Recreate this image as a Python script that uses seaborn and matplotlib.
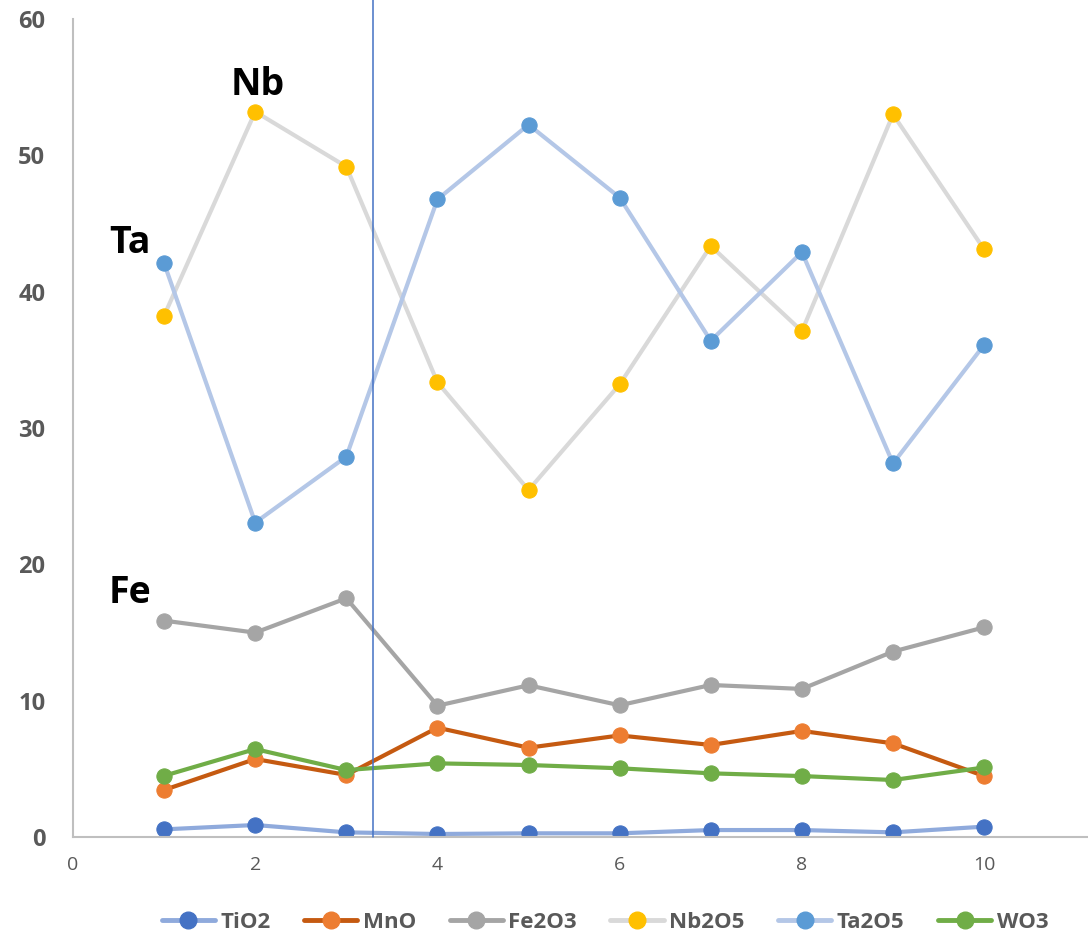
import matplotlib
matplotlib.use("Agg")
import matplotlib.pyplot as plt
import seaborn as sns
import pandas as pd
from matplotlib.lines import Line2D

samples = [1, 2, 3, 4, 5, 6, 7, 8, 9, 10]
tio2 = [0.56, 0.88, 0.34, 0.22, 0.27, 0.27, 0.51, 0.51, 0.34, 0.76]
mno = [3.45, 5.72, 4.55, 8.02, 6.55, 7.45, 6.75, 7.78, 6.87, 4.47]
fe2o3 = [15.87, 14.99, 17.51, 9.63, 11.13, 9.66, 11.15, 10.86, 13.6, 15.38]
nb2o5 = [38.24, 53.2, 49.17, 33.35, 25.45, 33.2, 43.35, 37.1, 53.0, 43.1]
ta2o5 = [42.08, 23.06, 27.9, 46.77, 52.25, 46.9, 36.4, 42.9, 27.4, 36.1]
wo3 = [4.49, 6.45, 4.91, 5.4, 5.28, 5.04, 4.67, 4.47, 4.18, 5.1]
series_names = ["TiO2", "MnO", "Fe2O3", "Nb2O5", "Ta2O5", "WO3"]
line_colors = ["#8FAADC", "#C55A11", "#A5A5A5", "#D9D9D9", "#B4C7E7", "#70AD47"]
marker_colors = ["#4472C4", "#ED7D31", "#A5A5A5", "#FFC000", "#5B9BD5", "#70AD47"]
labels = [("Nb", 2.03, 54.4), ("Ta", 0.63, 42.85), ("Fe", 0.63, 17.2)]
divider_x = 3.29

sns.set_theme(style="white")
plt.rcParams["font.family"] = ["Open Sans", "DejaVu Sans"]

values = [tio2, mno, fe2o3, nb2o5, ta2o5, wo3]
df = pd.DataFrame({"x": samples * 6,
                   "y": sum(values, []),
                   "s": [n for n in series_names for _ in samples]})

fig = plt.figure(figsize=(10.88, 9.38), dpi=100)
ax = fig.add_axes([73 / 1088, 1 - 837 / 938, 1 - 73 / 1088, (837 - 19) / 938])

for i, name in enumerate(series_names):
    sub = df[df["s"] == name]
    sns.lineplot(data=sub, x="x", y="y", ax=ax, color=line_colors[i], linewidth=3,
                 marker="o", markersize=11, markerfacecolor=marker_colors[i],
                 markeredgecolor=marker_colors[i], zorder=2 + i, legend=False)

ax.axvline(divider_x, ymin=0, ymax=837 / 818, color="#4472C4", linewidth=1.1,
           clip_on=False, zorder=10)

for txt, x, y in labels:
    ax.text(x, y, txt, fontsize=27, fontweight="bold", color="black",
            ha="center", va="baseline")

ax.set_xlim(0, 11.14)
ax.set_ylim(0, 60)
ax.set_xticks([0, 2, 4, 6, 8, 10])
ax.set_yticks([0, 10, 20, 30, 40, 50, 60])
ax.set_xlabel("")
ax.set_ylabel("")
ax.tick_params(axis="y", labelsize=17, labelcolor="#595959", length=0, pad=20)
ax.tick_params(axis="x", labelsize=14, labelcolor="#595959", length=0, pad=14)
for lab in ax.get_yticklabels():
    lab.set_fontweight("bold")
for s in ["top", "right"]:
    ax.spines[s].set_visible(False)
for s in ["left", "bottom"]:
    ax.spines[s].set_color("#BFBFBF")
    ax.spines[s].set_linewidth(1.5)
ax.grid(False)

handles = [Line2D([0], [0], color=line_colors[i], linewidth=3.5, marker="o",
                  markersize=12, markerfacecolor=marker_colors[i],
                  markeredgecolor=marker_colors[i]) for i in range(6)]
leg = fig.legend(handles, series_names, loc="center", bbox_to_anchor=(605 / 1088, 1 - 922 / 938),
                 ncol=6, frameon=False, handlelength=2.4, columnspacing=1.5, handletextpad=0.25,
                 prop={"size": 16, "weight": "bold"})
for t in leg.get_texts():
    t.set_color("#595959")

fig.savefig("out.png", dpi=100)
